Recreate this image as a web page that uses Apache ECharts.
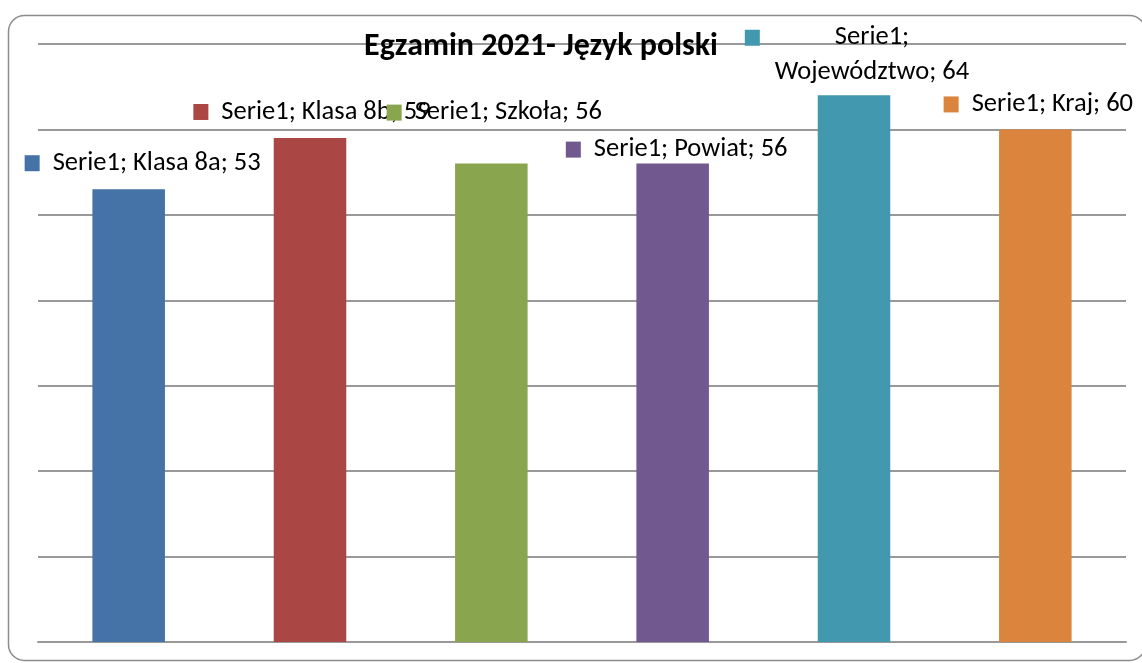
<!DOCTYPE html>
<html>
<head>
<meta charset="utf-8">
<script src="https://cdn.jsdelivr.net/npm/echarts@6/dist/echarts.min.js"></script>
<style>html,body{margin:0;padding:0;background:#fff}#c{width:1142px;height:663px}</style>
</head>
<body>
<div id="c"></div>
<script>
const seriesName = 'Serie1';
const categories = ['Klasa 8a', 'Klasa 8b', 'Szkoła', 'Powiat', 'Województwo', 'Kraj'];
const values = [53, 59, 56, 56, 64, 60];
const yTicks = [0, 10, 20, 30, 40, 50, 60, 70];

const colors = ['#4572A7', '#AA4643', '#89A54E', '#71588F', '#4198AF', '#DB843D'];
const labelOffsets = [[14, -26], [2, -26], [3, -51], [4, -14], [18, -40], [3, -25]];
const FONT = "Carlito, 'Liberation Sans', Arial, sans-serif";

const rich = {
  gap: { width: 13 },
  gapW: { width: 75 },
  tail: { width: 90 },
  t: { fontSize: 26.5, color: '#000', fontFamily: FONT, lineHeight: 26 },
  t2: { fontSize: 26.5, color: '#000', fontFamily: FONT, lineHeight: 35 }
};
colors.forEach((c, i) => { rich['sq' + i] = { width: 15, height: 16, backgroundColor: c }; });

const data = values.map((v, i) => {
  let fmt;
  if (categories[i] === 'Województwo') {
    fmt = `{sq${i}|}{gapW|}{t2|${seriesName};}{tail|}\n{t2|${categories[i]}; ${v}}`;
  } else {
    fmt = `{sq${i}|}{gap|}{t|${seriesName}; ${categories[i]}; ${v}}`;
  }
  return {
    value: v,
    itemStyle: { color: colors[i] },
    label: {
      show: true,
      position: 'top',
      distance: 0,
      verticalAlign: 'middle',
      offset: labelOffsets[i],
      formatter: fmt,
      rich: rich
    }
  };
});

const chart = echarts.init(document.getElementById('c'), null, { renderer: 'canvas' });
chart.setOption({
  animation: false,
  backgroundColor: '#fff',
  title: {
    text: 'Egzamin 2021- Język polski',
    left: 536,
    top: 42,
    textAlign: 'center',
    textVerticalAlign: 'middle',
    textStyle: { fontSize: 32, fontWeight: 'bold', color: '#000', fontFamily: FONT }
  },
  graphic: [{
    type: 'rect',
    z: -1,
    shape: { x: 8.5, y: 15.5, width: 1137, height: 645, r: 16 },
    style: { fill: 'none', stroke: '#8c8c8c', lineWidth: 1.5 }
  }],
  grid: { left: 38, right: 16, top: 44, bottom: 21 },
  xAxis: {
    type: 'category',
    data: categories,
    axisLine: { show: true, lineStyle: { color: '#999', width: 2 } },
    axisTick: { show: false },
    axisLabel: { show: false }
  },
  yAxis: {
    type: 'value',
    min: yTicks[0],
    max: yTicks[yTicks.length - 1],
    interval: yTicks[1] - yTicks[0],
    axisLine: { show: false },
    axisTick: { show: false },
    axisLabel: { show: false },
    splitLine: { show: true, lineStyle: { color: '#999', width: 2 } }
  },
  series: [{
    name: seriesName,
    type: 'bar',
    barWidth: '40%',
    data: data
  }]
});
</script>
</body>
</html>
